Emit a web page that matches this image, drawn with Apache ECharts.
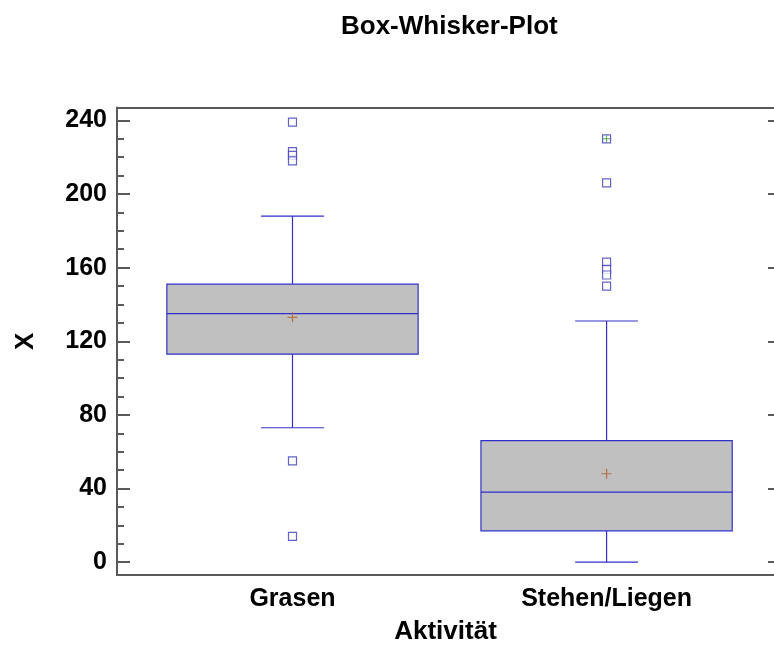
<!DOCTYPE html>
<html>
<head>
<meta charset="utf-8">
<script src="https://cdn.jsdelivr.net/npm/echarts@6/dist/echarts.min.js"></script>
<style>html,body{margin:0;padding:0;background:#fff}#c{width:774px;height:650px}</style>
</head>
<body>
<div id="c"></div>
<script>
// ---- data ----
const categories = ['Grasen', 'Stehen/Liegen'];
const whiskerLow  = [73, 0];
const q1          = [113, 17];
const median      = [135, 38];
const q3          = [151, 66];
const whiskerHigh = [188, 131];
const means       = [133, 48];
const outliersGrasen = [239, 223, 221, 218, 55, 14];
const outliersStehen = [230, 206, 163, 159, 156, 150];
const farOutsideStehen = [230];

// ---- build series data ----
const boxData = categories.map((c, i) => [i + 1, whiskerLow[i], q1[i], median[i], q3[i], whiskerHigh[i]]);
const meanData = categories.map((c, i) => [i + 1, means[i]]);
const outlierData = outliersGrasen.map(v => [1, v]).concat(outliersStehen.map(v => [2, v]));
const farData = farOutsideStehen.map(v => [2, v]);

const BOX_W = 0.8, CAP_W = 0.2;
const BLUE = '#3030c8';
const FONT = 'Liberation Sans, Arial, sans-serif';

const chart = echarts.init(document.getElementById('c'), null, {renderer: 'canvas'});

function renderBox(params, api) {
  const x = api.value(0);
  const pLo = api.coord([x, api.value(1)]);
  const pQ1 = api.coord([x, api.value(2)]);
  const pMed = api.coord([x, api.value(3)]);
  const pQ3 = api.coord([x, api.value(4)]);
  const pHi = api.coord([x, api.value(5)]);
  const hb = api.size([BOX_W, 0])[0] / 2;
  const hc = api.size([CAP_W, 0])[0] / 2;
  const cx = pMed[0];
  const ls = {stroke: BLUE, lineWidth: 1.2, fill: null};
  return {
    type: 'group',
    children: [
      {type: 'line', shape: {x1: cx, y1: pQ1[1], x2: cx, y2: pLo[1]}, style: ls},
      {type: 'line', shape: {x1: cx - hc, y1: pLo[1], x2: cx + hc, y2: pLo[1]}, style: ls},
      {type: 'line', shape: {x1: cx, y1: pQ3[1], x2: cx, y2: pHi[1]}, style: ls},
      {type: 'line', shape: {x1: cx - hc, y1: pHi[1], x2: cx + hc, y2: pHi[1]}, style: ls},
      {type: 'rect', shape: {x: cx - hb, y: pQ3[1], width: 2 * hb, height: pQ1[1] - pQ3[1]},
        style: {fill: '#c0c0c0', stroke: BLUE, lineWidth: 1.2}},
      {type: 'line', shape: {x1: cx - hb, y1: pMed[1], x2: cx + hb, y2: pMed[1]}, style: ls}
    ]
  };
}

const PLUS = 'path://M5,0L5,10M0,5L10,5';

const yCommon = {
  type: 'value', min: -7, max: 247, minInterval: 40, maxInterval: 40,
  splitLine: {show: false}
};
const xCommon = {
  type: 'value', min: 0.4413, max: 2.533, splitLine: {show: false}
};

chart.setOption({
  backgroundColor: '#fff',
  animation: false,
  title: {
    text: 'Box-Whisker-Plot', left: 341, top: 14, padding: 0,
    textStyle: {fontFamily: FONT, fontSize: 26, fontWeight: 'bold', color: '#000'}
  },
  grid: {left: 117, top: 107.5, width: 659, bottom: 74, containLabel: false},
  xAxis: [
    Object.assign({}, xCommon, {
      position: 'bottom',
      name: 'Aktivität', nameLocation: 'middle', nameGap: 44,
      nameTextStyle: {fontFamily: FONT, fontSize: 26, fontWeight: 'bold', color: '#000'},
      axisLine: {show: true, onZero: false, lineStyle: {color: '#5a5a5a', width: 2}},
      axisTick: {show: false},
      axisLabel: {
        customValues: [1, 2], margin: 12,
        formatter: v => categories[Math.round(v) - 1] || '',
        fontFamily: FONT, fontSize: 25, fontWeight: 'bold', color: '#000'
      }
    }),
    Object.assign({}, xCommon, {
      position: 'top',
      axisLine: {show: true, onZero: false, lineStyle: {color: '#5a5a5a', width: 2}},
      axisTick: {show: false}, axisLabel: {show: false}
    })
  ],
  yAxis: [
    Object.assign({}, yCommon, {
      position: 'left',
      name: 'X', nameLocation: 'middle', nameGap: 78,
      nameTextStyle: {fontFamily: FONT, fontSize: 26, fontWeight: 'bold', color: '#000'},
      axisLine: {show: true, onZero: false, lineStyle: {color: '#5a5a5a', width: 2}},
      axisTick: {show: true, inside: true, length: 13, lineStyle: {color: '#5a5a5a', width: 2}},
      minorTick: {show: true, splitNumber: 4, length: 7, lineStyle: {color: '#5a5a5a', width: 2}},
      axisLabel: {
        showMinLabel: false, showMaxLabel: false, margin: 10,
        fontFamily: FONT, fontSize: 25, fontWeight: 'bold', color: '#000'
      }
    }),
    Object.assign({}, yCommon, {
      position: 'right',
      axisLine: {show: false, onZero: false},
      axisTick: {show: true, inside: true, length: 6, lineStyle: {color: '#5a5a5a', width: 2}},
      axisLabel: {show: false}
    })
  ],
  series: [
    {
      type: 'custom', name: 'box', xAxisIndex: 0, yAxisIndex: 0,
      renderItem: renderBox, data: boxData,
      encode: {x: 0, y: [1, 2, 3, 4, 5]}, z: 2
    },
    {
      type: 'scatter', name: 'mean', xAxisIndex: 0, yAxisIndex: 0,
      data: meanData, symbol: PLUS, symbolSize: 10, z: 3,
      itemStyle: {color: 'none', borderColor: '#b0602a', borderWidth: 1.2}
    },
    {
      type: 'scatter', name: 'outliers', xAxisIndex: 0, yAxisIndex: 0,
      data: outlierData, symbol: 'rect', symbolSize: 8, z: 3,
      itemStyle: {color: '#fff', borderColor: '#3c3cb8', borderWidth: 1.2}
    },
    {
      type: 'scatter', name: 'far', xAxisIndex: 0, yAxisIndex: 0,
      data: farData, symbol: PLUS, symbolSize: 7, z: 4,
      itemStyle: {color: 'none', borderColor: '#2a9a2a', borderWidth: 1}
    }
  ]
});
</script>
</body>
</html>
